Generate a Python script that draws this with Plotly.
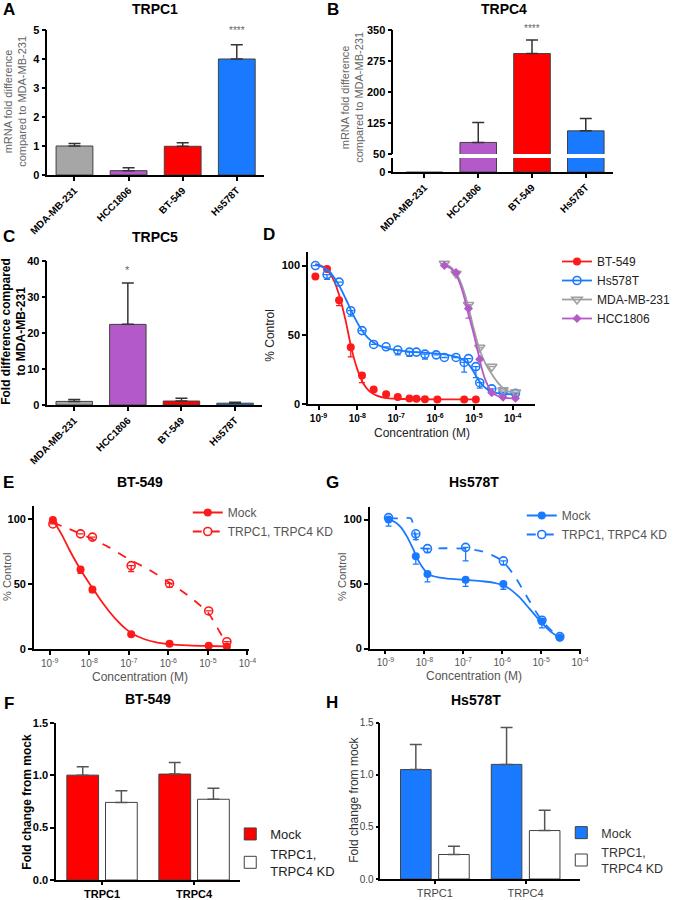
import plotly.graph_objects as go

W, H = 676, 900
FONT = "Liberation Sans, Arial, sans-serif"

# ---------------- data ----------------
cell_lines = ["MDA-MB-231", "HCC1806", "BT-549", "Hs578T"]
bar_colors = ["#a6a6a6", "#b35ac8", "#ff0000", "#1a7aff"]

trpc1_mrna = [1.0, 0.15, 0.99, 4.0]
trpc1_err = [0.09, 0.10, 0.12, 0.49]
trpc4_mrna = [1.0, 78, 293, 106]
trpc4_err = [0, 48, 33, 30]
trpc5_fold = [1.0, 22.4, 1.1, 0.5]
trpc5_err = [0.55, 11.5, 0.75, 0.25]

# panel D (log10 concentration, % control)
d_bt549_logc = [-9.08, -8.78, -8.47, -8.17, -7.88, -7.58, -7.26, -6.96, -6.66, -6.48, -6.26, -5.94, -5.25, -4.95]
d_bt549_pct = [92, 97.5, 75, 41, 20.5, 10.5, 7, 5, 4, 3.8, 3.5, 3.3, 3.2, 3.2]
d_bt549_err = [0, 0, 4, 7, 5, 0, 0, 0, 0, 0, 0, 0, 0, 0]
d_bt549_fit_logc = [-9.08, -8.9, -8.75, -8.6, -8.45, -8.3, -8.15, -8.0, -7.85, -7.7, -7.5, -7.3, -7.0, -6.5, -6.0, -5.5, -4.95]
d_bt549_fit_pct = [101, 99.5, 96, 89, 77, 60, 40, 25, 15, 9.5, 6, 4.5, 3.8, 3.5, 3.4, 3.3, 3.3]

d_hs578t_logc = [-9.08, -8.78, -8.47, -8.17, -7.88, -7.58, -7.26, -6.96, -6.66, -6.48, -6.26, -5.97, -5.76, -5.46, -5.25, -5.14, -4.95, -4.85, -4.54, -4.25, -3.93]
d_hs578t_pct = [100, 93.5, 88, 67.4, 53, 43, 41.3, 39, 37.5, 37.5, 36, 35.5, 33.6, 33.6, 30, 32.8, 27, 15.4, 10.9, 8.5, 7.7]
d_hs578t_err = [0, 3.5, 0, 4, 0, 0, 0, 3.5, 3, 0, 3.5, 0, 0, 0, 7, 0, 8, 4, 0, 0, 0]
d_hs578t_fit_logc = [-9.08, -8.9, -8.7, -8.5, -8.3, -8.1, -7.9, -7.7, -7.5, -7.2, -6.9, -6.5, -6.0, -5.6, -5.35, -5.15, -5.0, -4.85, -4.7, -4.5, -4.25, -3.93]
d_hs578t_fit_pct = [100.5, 99, 95, 87, 76, 64, 54, 47, 43, 40, 38.5, 37.5, 36.5, 35, 33, 29, 23, 16, 11.5, 8.5, 7.3, 7]

d_mda_logc = [-5.76, -5.46, -5.14, -4.85, -4.54, -4.25, -3.93]
d_mda_pct = [101.4, 94.2, 71.7, 40.8, 27, 10, 8.5]
d_mda_fit_logc = [-5.76, -5.6, -5.45, -5.3, -5.15, -5.0, -4.85, -4.7, -4.55, -4.4, -4.25, -4.1, -3.93]
d_mda_fit_pct = [101, 99, 94, 85, 71, 54, 39, 29, 22, 16, 11.5, 9, 8]

d_hcc_logc = [-5.76, -5.46, -5.14, -4.85, -4.54, -4.25, -3.93]
d_hcc_pct = [100, 95, 69, 32.4, 8.2, 4.9, 4.1]
d_hcc_err = [0, 0, 7, 0, 0, 0, 0]
d_hcc_fit_logc = [-5.76, -5.6, -5.45, -5.3, -5.15, -5.0, -4.9, -4.85, -4.8, -4.7, -4.55, -4.4, -4.2, -3.93]
d_hcc_fit_pct = [100, 98, 93, 82, 66, 50, 38, 32, 26, 17, 9, 6, 4.5, 4]

# panels E and G
eg_logc = [-8.92, -8.22, -7.92, -6.94, -5.97, -4.98, -4.52]
e_mock_pct = [99, 61, 45.7, 11.4, 4, 2.5, 2]
e_mock_err = [0, 3, 2.5, 1, 0, 0, 0]
e_kd_pct = [96, 88.4, 85.9, 64, 50.3, 29.2, 5.6]
e_kd_err = [0, 0, 0, 4.5, 3, 0, 0]
e_mock_fit_logc = [-8.92, -8.7, -8.5, -8.3, -8.1, -7.9, -7.7, -7.5, -7.3, -7.1, -6.9, -6.6, -6.3, -6.0, -5.5, -5.0, -4.52]
e_mock_fit_pct = [99, 88, 76, 65, 55, 46, 37, 29, 22, 16, 11.5, 7.5, 5, 3.8, 2.8, 2.3, 2]
e_kd_fit_logc = [-8.92, -8.5, -8.0, -7.5, -7.0, -6.5, -6.0, -5.5, -5.0, -4.85, -4.7, -4.6, -4.52]
e_kd_fit_pct = [97, 92, 85.5, 78, 69, 61, 51.5, 41, 28, 21, 13, 8, 4.5]

g_mock_pct = [100, 71.5, 57.8, 53.3, 50, 21, 8.5]
g_mock_err = [5, 6, 6, 5, 4, 5, 0]
g_kd_pct = [101.5, 89, 77.5, 78.5, 68, 22, 9.3]
g_kd_err = [0, 4.6, 3, 10.5, 3, 0, 0]
g_mock_fit_logc = [-8.92, -8.75, -8.6, -8.45, -8.3, -8.15, -8.0, -7.85, -7.6, -7.3, -7.0, -6.6, -6.2, -5.9, -5.6, -5.3, -5.0, -4.75, -4.52]
g_mock_fit_pct = [100, 98, 94, 87, 78, 68, 61, 57, 55, 54, 53.5, 52.5, 51, 48, 41, 31, 20.5, 13, 8.5]
g_kd_fit_logc = [-8.92, -8.6, -8.35, -8.28, -8.2, -8.1, -7.92, -7.5, -7.0, -6.6, -6.3, -6.0, -5.7, -5.4, -5.1, -4.9, -4.7, -4.52]
g_kd_fit_pct = [101, 101, 101, 95, 83, 78, 77.5, 77.8, 77.5, 76, 73, 68, 57, 42, 27, 19, 13, 9]

conc_ticks = [-9, -8, -7, -6, -5, -4]
conc_ticktext = ["10<sup>-9</sup>", "10<sup>-8</sup>", "10<sup>-7</sup>", "10<sup>-6</sup>", "10<sup>-5</sup>", "10<sup>-4</sup>"]

# panels F and H
kd_genes = ["TRPC1", "TRPC4"]
f_mock = [1.0, 1.01]
f_mock_err = [0.08, 0.11]
f_kd = [0.74, 0.77]
f_kd_err = [0.11, 0.105]
h_mock = [1.05, 1.10]
h_mock_err = [0.24, 0.355]
h_kd = [0.235, 0.465]
h_kd_err = [0.08, 0.195]

# ---------------- helpers ----------------
def xd(l, r):
    return [l / W, r / W]

def yd(top, bottom):
    return [1 - bottom / H, 1 - top / H]

def axis(**kw):
    base = dict(showline=True, linecolor="black", linewidth=1.5, ticks="outside",
                ticklen=4, tickwidth=1.5, tickcolor="black", showgrid=False,
                zeroline=False, fixedrange=True, automargin=False,
                tickfont=dict(family=FONT, size=11, color="black", weight="bold"))
    base.update(kw)
    return base

BOLD10 = dict(family=FONT, size=10, color="black", weight="bold")
BOLD11 = dict(family=FONT, size=11, color="black", weight="bold")
GRAY10 = dict(family=FONT, size=10, color="#555555")
GRAY11 = dict(family=FONT, size=11, color="#444444")

annotations = []

def ann(text, x, y, size=12, color="black", angle=0, xanchor="center", yanchor="middle", xref="paper", yref="paper"):
    if xref == "paper":
        x = x / W
    if yref == "paper":
        y = 1 - y / H
    annotations.append(dict(text=text, x=x, y=y, xref=xref, yref=yref, showarrow=False,
                            font=dict(family=FONT, size=size, color=color), textangle=angle,
                            xanchor=xanchor, yanchor=yanchor))

fig = go.Figure()

def err_up(arr, color="#333333", width=6):
    return dict(type="data", symmetric=False, array=arr, arrayminus=[0] * len(arr),
                color=color, thickness=1.5, width=width)

def err_down(arr, color, width=3):
    return dict(type="data", symmetric=False, array=[0] * len(arr), arrayminus=arr,
                color=color, thickness=1.3, width=width)

BAR_LINE = dict(color="#404040", width=1)
B_LINE = dict(color="#404040", width=[0, 1, 1, 1])

# ---------------- A ----------------
fig.add_trace(go.Bar(x=cell_lines, y=trpc1_mrna, width=0.68, marker=dict(color=bar_colors, line=BAR_LINE),
                     error_y=err_up(trpc1_err), xaxis="x", yaxis="y", showlegend=False))
# ---------------- B (broken axis) ----------------
fig.add_trace(go.Bar(x=cell_lines, y=trpc4_mrna, width=0.68, marker=dict(color=bar_colors, line=B_LINE),
                     error_y=err_up(trpc4_err), xaxis="x2", yaxis="y2", showlegend=False))
fig.add_trace(go.Bar(x=cell_lines, y=trpc4_mrna, width=0.68, marker=dict(color=bar_colors, line=B_LINE),
                     xaxis="x2", yaxis="y3", showlegend=False))
# ---------------- C ----------------
fig.add_trace(go.Bar(x=cell_lines, y=trpc5_fold, width=0.68, marker=dict(color=bar_colors, line=BAR_LINE),
                     error_y=err_up(trpc5_err), xaxis="x3", yaxis="y4", showlegend=False))

# ---------------- D ----------------
D_RED, D_BLUE, D_GRAY, D_PURPLE = "#ff1a1a", "#1a7aff", "#a0a0a0", "#b35ac8"
d_series = [
    ("BT-549", d_bt549_logc, d_bt549_pct, d_bt549_err, d_bt549_fit_logc, d_bt549_fit_pct, D_RED,
     dict(symbol="circle", size=8, color=D_RED)),
    ("Hs578T", d_hs578t_logc, d_hs578t_pct, d_hs578t_err, d_hs578t_fit_logc, d_hs578t_fit_pct, D_BLUE,
     dict(symbol="circle-open", size=8, color=D_BLUE, line=dict(width=1.6, color=D_BLUE))),
    ("MDA-MB-231", d_mda_logc, d_mda_pct, [0] * len(d_mda_pct), d_mda_fit_logc, d_mda_fit_pct, D_GRAY,
     dict(symbol="triangle-down-open", size=9, color=D_GRAY, line=dict(width=1.6, color=D_GRAY))),
    ("HCC1806", d_hcc_logc, d_hcc_pct, d_hcc_err, d_hcc_fit_logc, d_hcc_fit_pct, D_PURPLE,
     dict(symbol="diamond", size=7, color=D_PURPLE)),
]
for name, lx, py, pe, fx, fy, col, mk in d_series:
    fig.add_trace(go.Scatter(x=fx, y=fy, mode="lines", line=dict(color=col, width=1.8, shape="spline"),
                             xaxis="x4", yaxis="y5", showlegend=False, hoverinfo="skip"))
    fig.add_trace(go.Scatter(x=lx, y=py, mode="markers", marker=mk, error_y=err_down(pe, col),
                             xaxis="x4", yaxis="y5", showlegend=False))
    fig.add_trace(go.Scatter(x=[None], y=[None], mode="lines+markers", name=name, marker=mk,
                             line=dict(color=col, width=1.8), xaxis="x4", yaxis="y5", legend="legend"))

# ---------------- E and G ----------------
def dose_panel(xa, ya, col, mock, mock_err, kd, kd_err, mfx, mfy, kfx, kfy, leg):
    fig.add_trace(go.Scatter(x=mfx, y=mfy, mode="lines", line=dict(color=col, width=1.8, shape="spline"),
                             xaxis=xa, yaxis=ya, showlegend=False, hoverinfo="skip"))
    fig.add_trace(go.Scatter(x=kfx, y=kfy, mode="lines", line=dict(color=col, width=1.8, shape="spline", dash="dash", smoothing=0.8),
                             xaxis=xa, yaxis=ya, showlegend=False, hoverinfo="skip"))
    mk_m = dict(symbol="circle", size=8, color=col)
    mk_k = dict(symbol="circle-open", size=8, color=col, line=dict(width=1.6, color=col))
    fig.add_trace(go.Scatter(x=eg_logc, y=kd, mode="markers", marker=mk_k, error_y=err_down(kd_err, col),
                             xaxis=xa, yaxis=ya, showlegend=False))
    fig.add_trace(go.Scatter(x=eg_logc, y=mock, mode="markers", marker=mk_m, error_y=err_down(mock_err, col),
                             xaxis=xa, yaxis=ya, showlegend=False))
    fig.add_trace(go.Scatter(x=[None], y=[None], mode="lines+markers", name="Mock", marker=mk_m,
                             line=dict(color=col, width=1.8), xaxis=xa, yaxis=ya, legend=leg))
    fig.add_trace(go.Scatter(x=[None], y=[None], mode="lines+markers", name="TRPC1, TRPC4 KD", marker=mk_k,
                             line=dict(color=col, width=1.8, dash="dash"), xaxis=xa, yaxis=ya, legend=leg))

dose_panel("x5", "y6", "#ff1a1a", e_mock_pct, e_mock_err, e_kd_pct, e_kd_err,
           e_mock_fit_logc, e_mock_fit_pct, e_kd_fit_logc, e_kd_fit_pct, "legend2")
dose_panel("x6", "y7", "#1a7aff", g_mock_pct, g_mock_err, g_kd_pct, g_kd_err,
           g_mock_fit_logc, g_mock_fit_pct, g_kd_fit_logc, g_kd_fit_pct, "legend3")

# ---------------- F and H ----------------
def kd_bars(xa, ya, col, mock, mock_err, kd, kd_err, leg, w):
    fig.add_trace(go.Bar(x=kd_genes, y=mock, width=w, offset=-0.21 - w / 2, name="Mock",
                         marker=dict(color=col, line=BAR_LINE), error_y=err_up(mock_err, "#555555", 6),
                         xaxis=xa, yaxis=ya, legend=leg))
    fig.add_trace(go.Bar(x=kd_genes, y=kd, width=w, offset=0.21 - w / 2, name="TRPC1,<br>TRPC4 KD",
                         marker=dict(color="white", line=BAR_LINE), error_y=err_up(kd_err, "#555555", 6),
                         xaxis=xa, yaxis=ya, legend=leg))

kd_bars("x7", "y8", "#ff0000", f_mock, f_mock_err, f_kd, f_kd_err, "legend4", 0.345)
kd_bars("x8", "y9", "#1a7aff", h_mock, h_mock_err, h_kd, h_kd_err, "legend5", 0.337)

# ---------------- axes ----------------
cat_x = dict(type="category", tickangle=-45, tickfont=BOLD10)
lay = dict(
    xaxis=axis(domain=xd(48, 267), range=[-0.5, 3.5], anchor="y", **cat_x),
    yaxis=axis(domain=yd(30, 175), range=[0, 5], dtick=1, anchor="x"),
    xaxis2=axis(domain=xd(398, 620), range=[-0.58, 3.5], anchor="y3", **cat_x),
    yaxis2=axis(domain=yd(30, 154), range=[50, 350], tickvals=[50, 125, 200, 275, 350], anchor="x2"),
    yaxis3=axis(domain=yd(158, 172), range=[0, 50], tickvals=[0], anchor="x2"),
    xaxis3=axis(domain=xd(48, 265), range=[-0.5, 3.5], anchor="y4", **cat_x),
    yaxis4=axis(domain=yd(261, 405), range=[0, 40], dtick=10, anchor="x3"),
    xaxis4=axis(domain=xd(311.7, 541.7), range=[-9.27, -3.42], tickvals=conc_ticks, ticktext=conc_ticktext,
                tickfont=BOLD10, anchor="y5"),
    yaxis5=axis(domain=yd(251.7, 404), range=[0, 110], tickvals=[0, 50, 100], anchor="x4"),
    xaxis5=axis(domain=xd(34.3, 252), range=[-9.4, -3.96], tickvals=conc_ticks, ticktext=conc_ticktext,
                tickfont=GRAY10, anchor="y6"),
    yaxis6=axis(domain=yd(505.7, 649), range=[0, 110], tickvals=[0, 50, 100], anchor="x5"),
    xaxis6=axis(domain=xd(374.3, 588), range=[-9.4, -3.975], tickvals=conc_ticks, ticktext=conc_ticktext,
                tickfont=GRAY10, anchor="y7"),
    yaxis7=axis(domain=yd(506.7, 648.6), range=[0, 110], tickvals=[0, 50, 100], anchor="x6"),
    xaxis7=axis(domain=xd(56.7, 243), range=[-0.5, 1.5], type="category", tickfont=BOLD11, anchor="y8", ticklen=3),
    yaxis8=axis(domain=yd(722.7, 880), range=[0, 1.5], tickvals=[0, 0.5, 1, 1.5], tickformat=".1f", anchor="x7"),
    xaxis8=axis(domain=xd(385, 587), range=[-0.6, 1.6], type="category", tickfont=GRAY11, anchor="y9", ticklen=3),
    yaxis9=axis(domain=yd(722.7, 879), range=[0, 1.5], tickvals=[0, 0.5, 1, 1.5], tickformat=".1f",
                tickfont=dict(family=FONT, size=10, color="#444444"), ticklen=3, anchor="x8"),
)

def legend_at(x_text, y_top, size, color, k=40):
    return dict(x=(x_text - k) / W, y=1 - y_top / H, xanchor="left", yanchor="top",
                font=dict(family=FONT, size=size, color=color), bgcolor="rgba(0,0,0,0)",
                itemwidth=30, tracegroupgap=0)

lay["legend"] = legend_at(604, 247, 12, "#222222")
lay["legend2"] = legend_at(230, 498, 12, "#555555")
lay["legend3"] = legend_at(568, 501, 12, "#555555")
lay["legend4"] = legend_at(273, 819, 13, "#222222")
lay["legend5"] = legend_at(608, 818, 12.5, "#333333")

# ---------------- texts ----------------
for letter, x, y in [("A", 9, 9), ("B", 337, 9), ("C", 9, 236), ("D", 272, 235),
                     ("E", 9, 483), ("G", 336, 483), ("F", 9, 703), ("H", 336, 702)]:
    ann("<b>%s</b>" % letter, x, y, size=17)

for title, x, y in [("TRPC1", 157, 9), ("TRPC4", 510, 9), ("TRPC5", 157, 237), ("BT-549", 142, 482),
                    ("Hs578T", 480, 482), ("BT-549", 150, 699), ("Hs578T", 482, 700)]:
    ann("<b>%s</b>" % title, x, y, size=14)

ann("mRNA fold difference<br>compared to MDA-MB-231", 15, 101, size=11, color="#666666", angle=-90)
ann("mRNA fold difference<br>compared to MDA-MB-231", 356, 97, size=11, color="#666666", angle=-90)
ann("<b>Fold difference compared<br>to MDA-MB-231</b>", 14, 331, size=12, angle=-90)
ann("% Control", 273, 335, size=12, color="#222222", angle=-90)
ann("% Control", 7, 577, size=11, color="#555555", angle=-90)
ann("% Control", 346, 577, size=11, color="#555555", angle=-90)
ann("<b>Fold change from mock</b>", 27, 802, size=12, angle=-90)
ann("Fold change from mock", 358, 800, size=12, color="#333333", angle=-90)
ann("Concentration (M)", 427, 433, size=12, color="#222222")
ann("Concentration (M)", 142, 677, size=12, color="#555555")
ann("Concentration (M)", 480, 676, size=12, color="#555555")

ann("****", "Hs578T", 4.72, size=10, color="#666666", xref="x", yref="y", yanchor="bottom")
ann("****", "BT-549", 336, size=10, color="#666666", xref="x2", yref="y2", yanchor="bottom")
ann("*", "HCC1806", 35.2, size=11, color="#666666", xref="x3", yref="y4", yanchor="bottom")

fig.update_layout(template="none", width=W, height=H, autosize=False, margin=dict(l=0, r=0, t=0, b=0, pad=0),
                  paper_bgcolor="white", plot_bgcolor="white", barmode="overlay",
                  font=dict(family=FONT), annotations=annotations, **lay)

fig.write_html("out.html", config={"displayModeBar": False},
               post_script="document.body.style.margin='0';document.body.style.padding='0';")
